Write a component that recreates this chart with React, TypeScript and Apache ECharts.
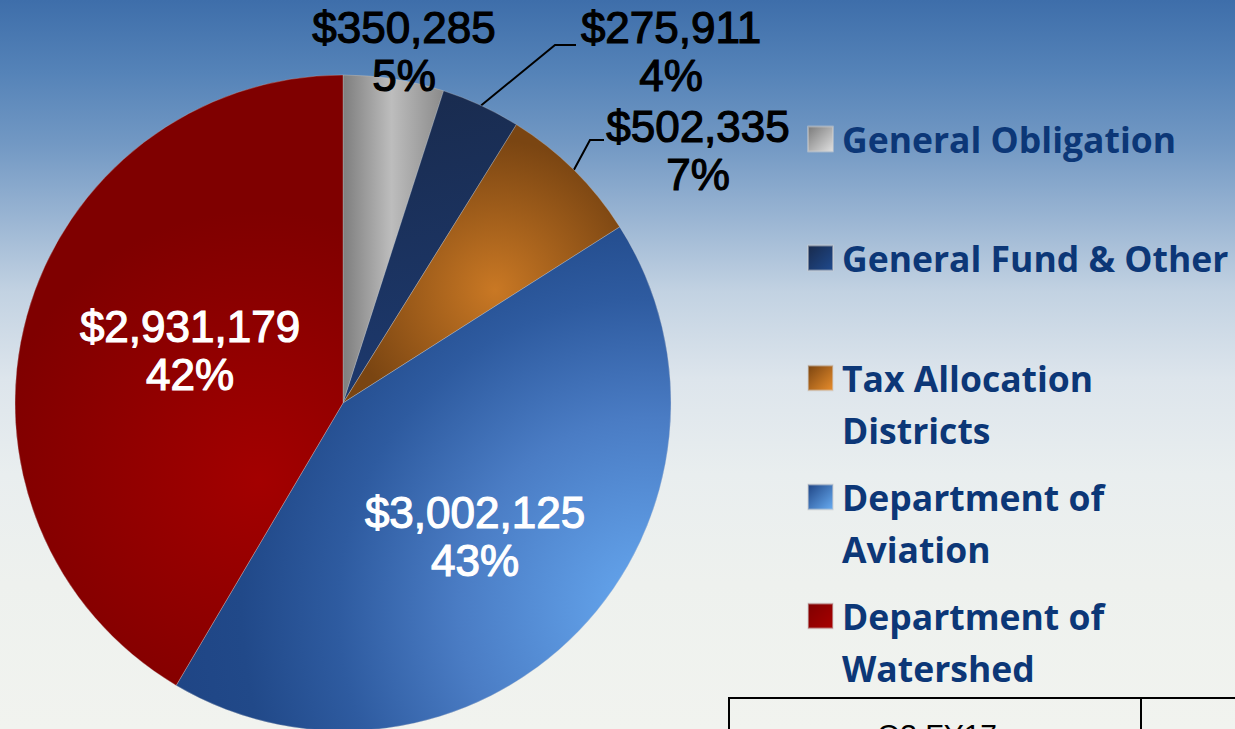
import React, { useEffect, useRef } from 'react';
import * as echarts from 'echarts';

// ---------- data ----------
const CATEGORIES = [
  'General Obligation',
  'General Fund & Other',
  'Tax Allocation Districts',
  'Department of Aviation',
  'Department of Watershed',
];
const VALUES = [350285, 275911, 502335, 3002125, 2931179];
const LEGEND_TEXT = [
  'General Obligation',
  'General Fund & Other',
  'Tax Allocation\nDistricts',
  'Department of\nAviation',
  'Department of\nWatershed',
];
const TABLE_HEADER = 'Q3 FY17';

// ---------- layout / style ----------
const PIE_CENTER = [343, 403];
const PIE_RADIUS = 328;
const LABEL_CENTER = [
  [404, 51],
  [671, 51],
  [698, 150],
  [475, 536],
  [190, 350],
];
const LEADER_TAIL: (number[][] | null)[] = [
  null,
  [
    [555, 45],
    [576, 45],
  ],
  [
    [590, 140],
    [604, 140],
  ],
  null,
  null,
];
const LABEL_INSIDE = [false, false, false, true, true];
const LEGEND_ICON_Y = [139, 258, 378, 497, 616];
const LEGEND_LEFT = 807;
const LEGEND_LINE_H = 52;

const G = echarts.graphic;
const SLICE_FILLS = [
  new G.LinearGradient(343, 0, 440, 0, [
    { offset: 0, color: '#7e7e7e' },
    { offset: 0.5, color: '#bdbdbd' },
    { offset: 1, color: '#8e8e8e' },
  ], true),
  new G.LinearGradient(400, 90, 470, 400, [
    { offset: 0, color: '#192b4e' },
    { offset: 1, color: '#1d3a70' },
  ], true),
  new G.RadialGradient(495, 290, 150, [
    { offset: 0, color: '#c97824' },
    { offset: 1, color: '#7a4512' },
  ], true),
  new G.RadialGradient(650, 610, 480, [
    { offset: 0, color: '#67a9f1' },
    { offset: 0.4, color: '#4a7cc4' },
    { offset: 0.65, color: '#2e5ba0' },
    { offset: 0.85, color: '#214989' },
    { offset: 1, color: '#1f4585' },
  ], true),
  new G.RadialGradient(260, 480, 270, [
    { offset: 0, color: '#a30000' },
    { offset: 1, color: '#7f0000' },
  ], true),
];
const ICON_FILLS = [
  ['#7a7a7a', '#e0e0e0'],
  ['#182a4c', '#1f4a8e'],
  ['#7a4410', '#e88d2c'],
  ['#1f4585', '#68acf2'],
  ['#7f0000', '#a80000'],
].map(
  ([a, b]) =>
    new G.LinearGradient(0, 0, 1, 1, [
      { offset: 0, color: a },
      { offset: 1, color: b },
    ])
);

export default function App() {
  const ref = useRef<HTMLDivElement>(null);
  useEffect(() => {
    if (!ref.current) return;
    const chart = echarts.init(ref.current, undefined, { renderer: 'svg' });

    const legends = CATEGORIES.map((name, i) => {
      const lines = LEGEND_TEXT[i].split('\n').length;
      const text = lines > 1 ? '\n' + LEGEND_TEXT[i] : LEGEND_TEXT[i];
      const boxH = (lines > 1 ? lines + 1 : 1) * LEGEND_LINE_H;
      return {
        data: [{ name, icon: 'rect', itemStyle: { color: ICON_FILLS[i] } }],
        left: LEGEND_LEFT,
        top: LEGEND_ICON_Y[i] - boxH / 2,
        orient: 'vertical',
        padding: 0,
        itemWidth: 25,
        itemHeight: 25,
        selectedMode: false,
        formatter: () => text,
        textStyle: {
          fontFamily: 'Open Sans',
          fontWeight: 'bold',
          fontSize: 35.5,
          lineHeight: LEGEND_LINE_H,
          color: '#0c3777',
          padding: [0, 0, 0, 4],
        },
      };
    });

    chart.setOption({
      animation: false,
      backgroundColor: 'transparent',
      legend: legends,
      series: [
        {
          type: 'pie',
          center: PIE_CENTER,
          radius: PIE_RADIUS,
          startAngle: 90,
          clockwise: true,
          avoidLabelOverlap: false,
          emphasis: { disabled: true },
          data: CATEGORIES.map((name, i) => ({
            name,
            value: VALUES[i],
            itemStyle: {
              color: SLICE_FILLS[i],
              borderColor: 'rgba(210,210,210,0.5)',
              borderWidth: 0.6,
            },
            label: {
              position: LABEL_INSIDE[i] ? 'inside' : 'outside',
              color: LABEL_INSIDE[i] ? '#ffffff' : '#000000',
              textBorderColor: LABEL_INSIDE[i] ? '#ffffff' : '#000000',
              textBorderWidth: 1.2,
            },
            labelLine: {
              show: !!LEADER_TAIL[i],
              lineStyle: { color: '#000', width: 2 },
            },
          })),
          label: {
            show: true,
            fontFamily: 'Liberation Sans',
            fontWeight: 'normal',
            fontSize: 44,
            lineHeight: 48,
            formatter: (p: any) =>
              '$' + Number(p.value).toLocaleString('en-US') + '\n' + Math.round(p.percent) + '%',
          },
          labelLayout: (p: any) => {
            const i = p.dataIndex;
            const res: any = {
              x: LABEL_CENTER[i][0],
              y: LABEL_CENTER[i][1],
              align: 'center',
              verticalAlign: 'middle',
            };
            const tail = LEADER_TAIL[i];
            if (tail && p.labelLinePoints) {
              res.labelLinePoints = [p.labelLinePoints[0], tail[0], tail[1]];
            }
            return res;
          },
        },
      ],
      graphic: [
        { type: 'line', shape: { x1: 728, y1: 698, x2: 1235, y2: 698 }, style: { stroke: '#000', lineWidth: 2 } },
        { type: 'line', shape: { x1: 729, y1: 697, x2: 729, y2: 729 }, style: { stroke: '#000', lineWidth: 2 } },
        { type: 'line', shape: { x1: 1141, y1: 697, x2: 1141, y2: 729 }, style: { stroke: '#000', lineWidth: 2 } },
        {
          type: 'text',
          x: 937,
          y: 719,
          style: {
            text: TABLE_HEADER,
            fill: '#000',
            font: '30px "Liberation Sans"',
            align: 'center',
            verticalAlign: 'top',
          },
        },
      ],
    });
    return () => chart.dispose();
  }, []);

  return (
    <div
      style={{
        position: 'fixed',
        left: 0,
        top: 0,
        width: 1235,
        height: 729,
        background:
          'linear-gradient(to bottom, #3e6eaa 0%, #5583b8 10%, #7399c4 20%, #9ab5d3 30%, #c2d2e2 40%, #dde5ec 52%, #e9eeef 65%, #eef1ee 80%, #f1f3ef 100%)',
      }}
    >
      <div ref={ref} style={{ width: 1235, height: 729 }} />
    </div>
  );
}
